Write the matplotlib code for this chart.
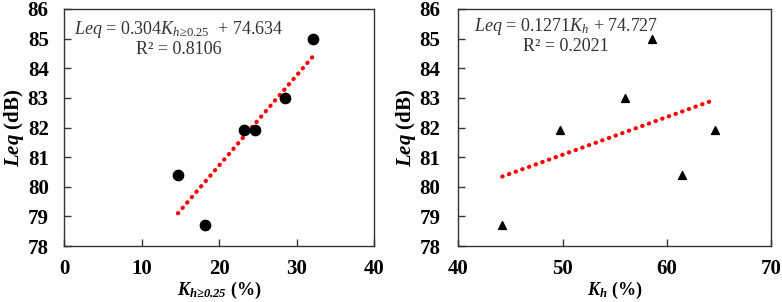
import numpy as np
import matplotlib
matplotlib.use("Agg")
import matplotlib.pyplot as plt

plt.rcParams['font.family'] = ['Liberation Serif', 'DejaVu Serif']
plt.rcParams['mathtext.fontset'] = 'custom'
plt.rcParams['mathtext.rm'] = 'Liberation Serif'
plt.rcParams['mathtext.it'] = 'Liberation Serif:italic'
plt.rcParams['mathtext.bf'] = 'Liberation Serif:bold'
plt.rcParams['mathtext.bfit'] = 'Liberation Serif:bold:italic'

# data
k_h025 = [14.7, 18.2, 23.2, 24.7, 28.5, 32.1]
leq_a = [80.4, 78.7, 81.9, 81.9, 83.0, 85.0]
k_h = [44.2, 49.7, 56.0, 58.6, 61.5, 64.6]
leq_b = [78.7, 81.9, 83.0, 85.0, 80.4, 81.9]

fit_a = (0.304, 74.634)
fit_b = (0.1271, 74.727)

fig = plt.figure(figsize=(7.82, 3.02), dpi=100)
ax1 = fig.add_axes([64/782, 56/302, 310/782, 237/302])
ax2 = fig.add_axes([458.5/782, 56/302, 312.5/782, 237/302])


def style(ax, xlim, xticks, ypad):
    ax.set_xlim(*xlim)
    ax.set_ylim(78, 86)
    ax.set_xticks(xticks)
    ax.set_yticks(np.arange(78, 87, 1))
    ax.tick_params(axis='x', direction='in', length=5, width=1, color='#333333', pad=9)
    ax.tick_params(axis='y', direction='in', length=5, width=1, color='#333333', pad=ypad)
    for lab in ax.get_xticklabels() + ax.get_yticklabels():
        lab.set_fontweight('bold')
        lab.set_fontsize(15)
    for s in ax.spines.values():
        s.set_color('#333333')
        s.set_linewidth(1)
    ax.set_ylabel(r'$\mathbfit{Leq}$ (dB)', fontsize=15, fontweight='bold', labelpad=1)


# left panel
ax1.scatter(k_h025, leq_a, s=55, color='black', marker='o', zorder=3)
xs = np.array([min(k_h025), max(k_h025)])
ax1.plot(xs, fit_a[0]*xs + fit_a[1], color='red', linestyle=(0, (0.1, 1.6)),
         linewidth=3, dash_capstyle='round', zorder=2)
style(ax1, (0, 40), [0, 10, 20, 30, 40], 11)
ax1.set_xlabel(r'$\mathbfit{K}_{\mathbfit{h≥0.25}}$ (%)', fontsize=13, fontweight='bold', labelpad=1)
ax1.text(0.37, 0.912, r'$\mathit{Leq}$ = 0.304$\mathit{K}_{\mathit{h≥0.25}}$  + 74.634',
         transform=ax1.transAxes, ha='center', va='center', fontsize=13, color='#333333')
ax1.text(0.37, 0.83, 'R² = 0.8106', transform=ax1.transAxes,
         ha='center', va='center', fontsize=13, color='#333333')

# right panel
ax2.scatter(k_h, leq_b, s=32, color='black', marker='^', zorder=3)
xs = np.array([min(k_h), max(k_h)])
ax2.plot(xs, fit_b[0]*xs + fit_b[1], color='red', linestyle=(0, (0.1, 1.6)),
         linewidth=3, dash_capstyle='round', zorder=2)
style(ax2, (40, 70), [40, 50, 60, 70], 13)
ax2.set_xlabel(r'$\mathbfit{K}_{\mathbfit{h}}$ (%)', fontsize=13, fontweight='bold', labelpad=1)
ax2.text(0.345, 0.928, r'$\mathit{Leq}$ = 0.1271$\mathit{K}_{\mathit{h}}$ + 74.727',
         transform=ax2.transAxes, ha='center', va='center', fontsize=13, color='#333333')
ax2.text(0.345, 0.842, 'R² = 0.2021', transform=ax2.transAxes,
         ha='center', va='center', fontsize=13, color='#333333')

fig.savefig('out.png', dpi=100)
